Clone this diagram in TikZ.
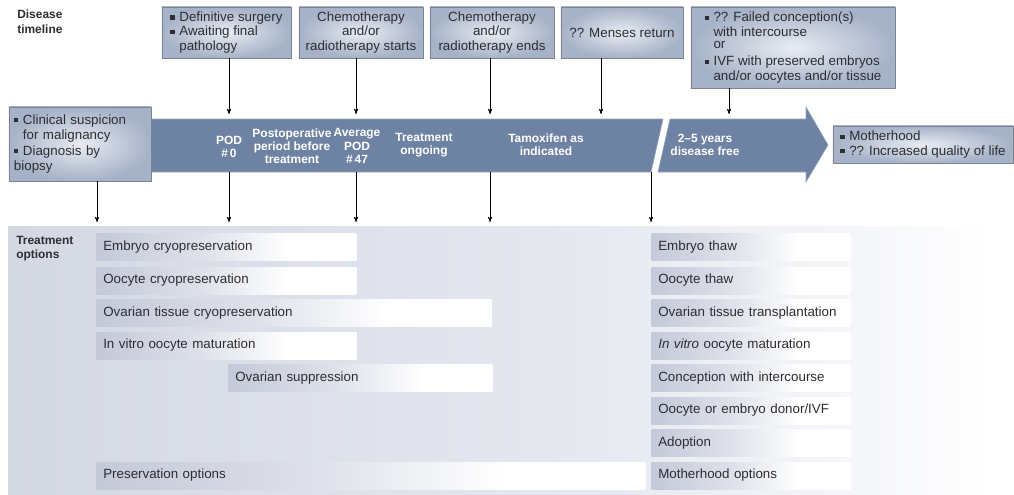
\documentclass[tikz,border=0pt]{standalone}
\usepackage{fontspec}
\setmainfont{Liberation Sans}
\usepackage{tikz}
\usetikzlibrary{arrows}
\definecolor{bandblue}{RGB}{110,131,163}
\definecolor{boxedge}{RGB}{125,131,143}
\definecolor{boxout}{RGB}{166,178,199}
\definecolor{boxin}{RGB}{232,236,243}
\definecolor{txtgray}{RGB}{45,45,50}
\definecolor{panelL}{RGB}{212,216,227}
\definecolor{panelM}{RGB}{229,232,239}
\definecolor{panelR}{RGB}{246,247,250}
\definecolor{barL}{RGB}{196,201,217}
\definecolor{barM}{RGB}{222,225,234}
\pgfdeclarehorizontalshading{panelshade}{100bp}{color(0bp)=(panelL); color(25bp)=(panelL);
  color(53bp)=(panelM); color(68bp)=(panelR); color(74bp)=(white); color(100bp)=(white)}
\pgfdeclarehorizontalshading{barshade}{100bp}{color(0bp)=(barL); color(25bp)=(barL);
  color(45bp)=(barM); color(62bp)=(white); color(100bp)=(white)}
\newcommand{\sqbul}{\rule[.25ex]{.32em}{.32em}\hspace{.35em}}
\newcommand{\sqgap}{\hphantom{\sqbul}}
\tikzset{
  topbox/.style = {rectangle, draw=boxedge, thin, inner color=boxin, outer color=boxout,
    text=txtgray, font=\fontsize{9.5}{10.3}\selectfont, align=left, inner sep=2pt},% event box
  bandtxt/.style = {white, font=\fontsize{8.5}{9.4}\selectfont\bfseries, align=center,
    inner sep=0pt},% text on the timeline
  headtxt/.style = {text=txtgray, font=\fontsize{8.5}{10}\selectfont\bfseries, align=left,
    anchor=north west, inner sep=0pt},
  optbar/.style = {rectangle, shading=barshade, text=txtgray, font=\fontsize{9.5}{10.5}\selectfont,
    anchor=west, minimum height=0.675cm, inner xsep=0.175cm, inner ysep=0pt, align=left,
    text width=#1},% option bar
  band/.style = {fill=bandblue, draw=bandblue!75!white, thin},
}

\begin{document}
\begin{tikzpicture}[x=0.025cm,y=-0.025cm,>=stealth',thin]
\useasboundingbox (0,0) rectangle (1014,494);
%   lower panel
  \shade[shading=panelshade] (8,226) rectangle (1014,494);
%   timeline band
  \path[band] (151,119) -- (663,119) -- (651,172) -- (151,172) -- cycle;
  \path[band] (670,119) -- (806,119) -- (806,107) -- (828,145) -- (806,182) -- (806,172)
    -- (658,172) -- cycle;

  \node[headtxt] (dis) at (17,10) {Disease\\timeline};
  \node[headtxt] (trt) at (16,236) {Treatment\\options};

%   events
  \node[topbox, minimum width=3.225cm, minimum height=1.275cm] (surg) at (226.5,32.5)
    {\sqbul Definitive surgery\\ \sqbul Awaiting final\\ \sqgap pathology};
  \node[topbox, align=center, minimum width=3.1cm, minimum height=1.275cm] (cstart) at (361,32.5)
    {Chemotherapy\\and/or\\radiotherapy starts};
  \node[topbox, align=center, minimum width=3.1cm, minimum height=1.275cm] (cend) at (492,32.5)
    {Chemotherapy\\and/or\\radiotherapy ends};
  \node[topbox, minimum width=3.05cm, minimum height=1.275cm] (mens) at (622,32.5)
    {?? Menses return};
  \node[topbox, minimum width=5.1cm, minimum height=2.025cm] (ivf) at (793,47.5)
    {\sqbul ?? Failed conception(s)\\ \sqgap with intercourse\\[-1.5pt] \sqgap or\\[2pt]
     \sqbul IVF with preserved embryos\\ \sqgap and/or oocytes and/or tissue};
  \node[topbox, font=\fontsize{9.5}{11}\selectfont, text width=3.3cm, minimum width=3.55cm,
    minimum height=1.85cm] (clin) at (80,144)
    {\sqbul Clinical suspicion\\ \sqgap for malignancy\\ \sqbul Diagnosis by\\ biopsy};
  \node[topbox, minimum width=4.5cm, minimum height=0.925cm] (moth) at (923,144.5)
    {\sqbul Motherhood\\ \sqbul ?? Increased quality of life};

%   timeline text
  \node[bandtxt] (pod0) at (229,147) {POD\\\#\,0};
  \node[bandtxt] (post) at (292,146) {Postoperative\\period before\\treatment};
  \node[bandtxt] (pod47) at (357,146) {Average\\POD\\\#\,47};
  \node[bandtxt] (ongo) at (424,145) {Treatment\\ongoing};
  \node[bandtxt] (tamo) at (546,145) {Tamoxifen as\\indicated};
  \node[bandtxt] (free) at (705,145) {2--5 years\\disease free};

%   arrow ends on the band
  \coordinate (t1) at (229,114);
  \coordinate (t2) at (356,114);
  \coordinate (t3) at (490,114);
  \coordinate (t4) at (601,114);
  \coordinate (t5) at (729,114);
  \coordinate (u1) at (229,172);
  \coordinate (u2) at (356,172);
  \coordinate (u3) at (490,172);
  \coordinate (u4) at (651,172);
  \coordinate (o0) at (97,222);
  \coordinate (o1) at (229,222);
  \coordinate (o2) at (356,222);
  \coordinate (o3) at (490,222);
  \coordinate (o4) at (651,222);

%   events down to the band
  \path[->] (surg.south -| t1) edge (t1);
  \path[->] (cstart.south -| t2) edge (t2);
  \path[->] (cend.south -| t3) edge (t3);
  \path[->] (mens.south -| t4) edge (t4);
  \path[->] (ivf.south -| t5) edge (t5);
%   band down to the options
  \path[->] (clin.south -| o0) edge (o0);
  \path[->] (u1) edge (o1);
  \path[->] (u2) edge (o2);
  \path[->] (u3) edge (o3);
  \path[->] (u4) edge (o4);

%   preservation options
  \node[optbar=6.15cm] (emb) at (96,247) {Embryo cryopreservation};
  \node[optbar=6.15cm] (ooc) at (96,280.5) {Oocyte cryopreservation};
  \node[optbar=9.525cm] (ovt) at (96,313) {Ovarian tissue cryopreservation};
  \node[optbar=6.15cm] (ivm) at (96,345.5) {In vitro oocyte maturation};
  \node[optbar=6.25cm] (sup) at (228,378) {Ovarian suppression};
  \node[optbar=13.375cm] (pres) at (96,475.5) {Preservation options};
%   motherhood options
  \node[optbar=4.625cm] (m1) at (651,247) {Embryo thaw};
  \node[optbar=4.625cm] (m2) at (651,280.5) {Oocyte thaw};
  \node[optbar=4.625cm] (m3) at (651,313) {Ovarian tissue transplantation};
  \node[optbar=4.625cm] (m4) at (651,345.5) {\textit{In vitro} oocyte maturation};
  \node[optbar=4.625cm] (m5) at (651,378) {Conception with intercourse};
  \node[optbar=4.625cm] (m6) at (651,410.5) {Oocyte or embryo donor/IVF};
  \node[optbar=4.625cm] (m7) at (651,443) {Adoption};
  \node[optbar=4.625cm] (m8) at (651,475.5) {Motherhood options};
\end{tikzpicture}
\end{document}
